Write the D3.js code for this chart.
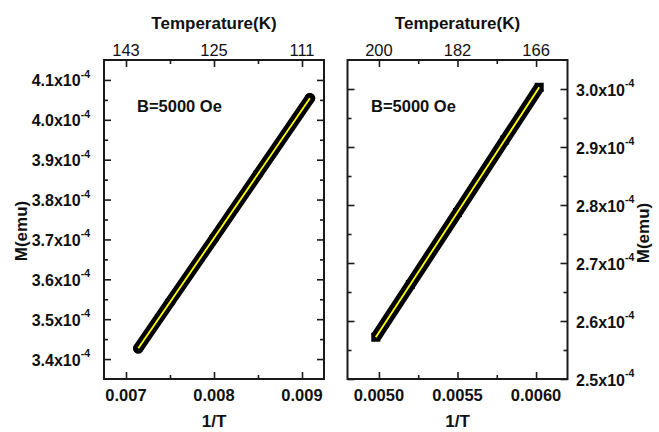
<!DOCTYPE html>
<html><head><meta charset="utf-8">
<script src="https://cdn.jsdelivr.net/npm/d3@7/dist/d3.min.js"></script>
<style>
html,body{margin:0;padding:0;background:#fff;}
svg{display:block;font-family:"Liberation Sans",Arial,sans-serif;}
</style></head>
<body>
<svg id="c" width="659" height="432"></svg>
<script>
// ---- data ----
const leftInvT = [0.00714, 0.0075, 0.0080, 0.0085, 0.00909];
const leftM    = [3.427e-4, 3.543e-4, 3.703e-4, 3.864e-4, 4.054e-4];
const leftFitInvT = [0.00714, 0.00909];
const leftFitM    = [3.427e-4, 4.054e-4];

const rightInvT = [0.00498, 0.0052, 0.0055, 0.0058, 0.00602];
const rightM    = [2.572e-4, 2.663e-4, 2.787e-4, 2.912e-4, 3.003e-4];
const rightFitInvT = [0.00498, 0.00602];
const rightFitM    = [2.572e-4, 3.003e-4];

const leftXTicks = [0.007, 0.008, 0.009];
const leftXMinor = [0.0075, 0.0085];
const leftXLabels = ["0.007", "0.008", "0.009"];
const leftTopLabels = ["143", "125", "111"];
const leftYTicks = [3.4e-4, 3.5e-4, 3.6e-4, 3.7e-4, 3.8e-4, 3.9e-4, 4.0e-4, 4.1e-4];
const leftYMinor = [3.45e-4, 3.55e-4, 3.65e-4, 3.75e-4, 3.85e-4, 3.95e-4, 4.05e-4];
const leftYLabels = ["3.4", "3.5", "3.6", "3.7", "3.8", "3.9", "4.0", "4.1"];

const rightXTicks = [0.0050, 0.0055, 0.0060];
const rightXMinor = [0.00525, 0.00575];
const rightXLabels = ["0.0050", "0.0055", "0.0060"];
const rightTopLabels = ["200", "182", "166"];
const rightYTicks = [2.5e-4, 2.6e-4, 2.7e-4, 2.8e-4, 2.9e-4, 3.0e-4];
const rightYMinor = [2.55e-4, 2.65e-4, 2.75e-4, 2.85e-4, 2.95e-4];
const rightYLabels = ["2.5", "2.6", "2.7", "2.8", "2.9", "3.0"];

const svg = d3.select("#c");

function panel(o) {
  const x = d3.scaleLinear().domain(o.xDom).range([o.x0, o.x1]);
  const y = d3.scaleLinear().domain(o.yDom).range([o.y1, o.y0]);
  const g = svg.append("g");
  const axCol = "#1a1a1a";
  const major = 7, minor = 4;

  function styleAxis(sel) {
    sel.select(".domain").remove();
    sel.selectAll("line").attr("stroke", axCol).attr("stroke-width", 1.6);
    sel.selectAll("text").remove();
  }
  g.append("g").attr("transform", `translate(0,${o.y1})`)
    .call(d3.axisBottom(x).tickValues(o.xTicks).tickSize(-major)).call(styleAxis);
  g.append("g").attr("transform", `translate(0,${o.y1})`)
    .call(d3.axisBottom(x).tickValues(o.xMinor).tickSize(-minor)).call(styleAxis);
  g.append("g").attr("transform", `translate(0,${o.y0})`)
    .call(d3.axisTop(x).tickValues(o.xTicks).tickSize(-major)).call(styleAxis);
  g.append("g").attr("transform", `translate(0,${o.y0})`)
    .call(d3.axisTop(x).tickValues(o.xMinor).tickSize(-minor)).call(styleAxis);
  g.append("g").attr("transform", `translate(${o.x0},0)`)
    .call(d3.axisLeft(y).tickValues(o.yTicks).tickSize(-major)).call(styleAxis);
  g.append("g").attr("transform", `translate(${o.x0},0)`)
    .call(d3.axisLeft(y).tickValues(o.yMinor).tickSize(-minor)).call(styleAxis);
  g.append("g").attr("transform", `translate(${o.x1},0)`)
    .call(d3.axisRight(y).tickValues(o.yTicks).tickSize(-major)).call(styleAxis);
  g.append("g").attr("transform", `translate(${o.x1},0)`)
    .call(d3.axisRight(y).tickValues(o.yMinor).tickSize(-minor)).call(styleAxis);

  g.append("rect").attr("x", o.x0).attr("y", o.y0)
    .attr("width", o.x1 - o.x0).attr("height", o.y1 - o.y0)
    .attr("fill", "none").attr("stroke", axCol).attr("stroke-width", 2);

  g.selectAll(".bl").data(o.xTicks).enter().append("text")
    .attr("x", d => x(d)).attr("y", 401).attr("text-anchor", "middle")
    .attr("font-size", 16.5).attr("font-weight", "bold").attr("fill", "#111")
    .text((d, i) => o.xLabels[i]);
  g.selectAll(".tl").data(o.xTicks).enter().append("text")
    .attr("x", d => x(d)).attr("y", 56).attr("text-anchor", "middle")
    .attr("font-size", 16.5).attr("fill", "#111")
    .text((d, i) => o.topLabels[i]);
  const yl = g.selectAll(".yl").data(o.yTicks).enter().append("text")
    .attr("x", o.yLabelX).attr("y", d => y(d) + 6.5)
    .attr("text-anchor", o.yAnchor)
    .attr("font-size", 16).attr("font-weight", "bold").attr("fill", "#111");
  yl.append("tspan").text((d, i) => o.yLabels[i] + "x10");
  yl.append("tspan").attr("font-size", 10.5).attr("dy", -8.5).text("-4");

  g.append("text").attr("x", (o.x0 + o.x1) / 2).attr("y", 29)
    .attr("text-anchor", "middle").attr("font-size", 17).attr("font-weight", "bold")
    .attr("fill", "#111").text("Temperature(K)");
  g.append("text").attr("x", (o.x0 + o.x1) / 2).attr("y", 427)
    .attr("text-anchor", "middle").attr("font-size", 17).attr("font-weight", "bold")
    .attr("fill", "#111").text("1/T");
  g.append("text")
    .attr("transform", `translate(${o.yTitleX},${o.yTitleY}) rotate(-90)`)
    .attr("text-anchor", "middle").attr("font-size", 17).attr("font-weight", "bold")
    .attr("fill", "#111").text("M(emu)");
  g.append("text").attr("x", o.bX).attr("y", 112)
    .attr("font-size", 16.5).attr("font-weight", "bold").attr("fill", "#111")
    .text("B=5000 Oe");

  const pts = o.dx.map((d, i) => [d, o.dy[i]]);
  const line = d3.line().x(d => x(d[0])).y(d => y(d[1]));
  g.append("path").datum(pts).attr("d", line)
    .attr("fill", "none").attr("stroke", "#000")
    .attr("stroke-width", o.bandW).attr("stroke-linecap", o.square ? "butt" : "round");
  if (o.square) {
    g.selectAll(".sq").data(pts).enter().append("rect")
      .attr("x", d => x(d[0]) - 4.5).attr("y", d => y(d[1]) - 4.5)
      .attr("width", 9).attr("height", 9).attr("fill", "#000");
  } else {
    g.selectAll(".ci").data(pts).enter().append("circle")
      .attr("cx", d => x(d[0])).attr("cy", d => y(d[1])).attr("r", 5.3).attr("fill", "#000");
  }
  const fit = o.fx.map((d, i) => [d, o.fy[i]]);
  g.append("path").datum(fit).attr("d", line)
    .attr("fill", "none").attr("stroke", "#ffff00").attr("stroke-width", 1.8);
}

panel({
  x0: 104, x1: 324, y0: 60, y1: 379,
  xDom: [0.00675, 0.00925], yDom: [3.35e-4, 4.15e-4],
  xTicks: leftXTicks, xMinor: leftXMinor, xLabels: leftXLabels, topLabels: leftTopLabels,
  yTicks: leftYTicks, yMinor: leftYMinor, yLabels: leftYLabels,
  yLabelX: 90, yAnchor: "end", yTitleX: 27, yTitleY: 231, bX: 137,
  dx: leftInvT, dy: leftM, fx: leftFitInvT, fy: leftFitM, bandW: 10.5, square: false
});
panel({
  x0: 347.5, x1: 567.5, y0: 60, y1: 379,
  xDom: [0.0048, 0.0062], yDom: [2.5e-4, 3.05e-4],
  xTicks: rightXTicks, xMinor: rightXMinor, xLabels: rightXLabels, topLabels: rightTopLabels,
  yTicks: rightYTicks, yMinor: rightYMinor, yLabels: rightYLabels,
  yLabelX: 576, yAnchor: "start", yTitleX: 649, yTitleY: 233, bX: 371,
  dx: rightInvT, dy: rightM, fx: rightFitInvT, fy: rightFitM, bandW: 11, square: true
});
</script>
</body></html>
